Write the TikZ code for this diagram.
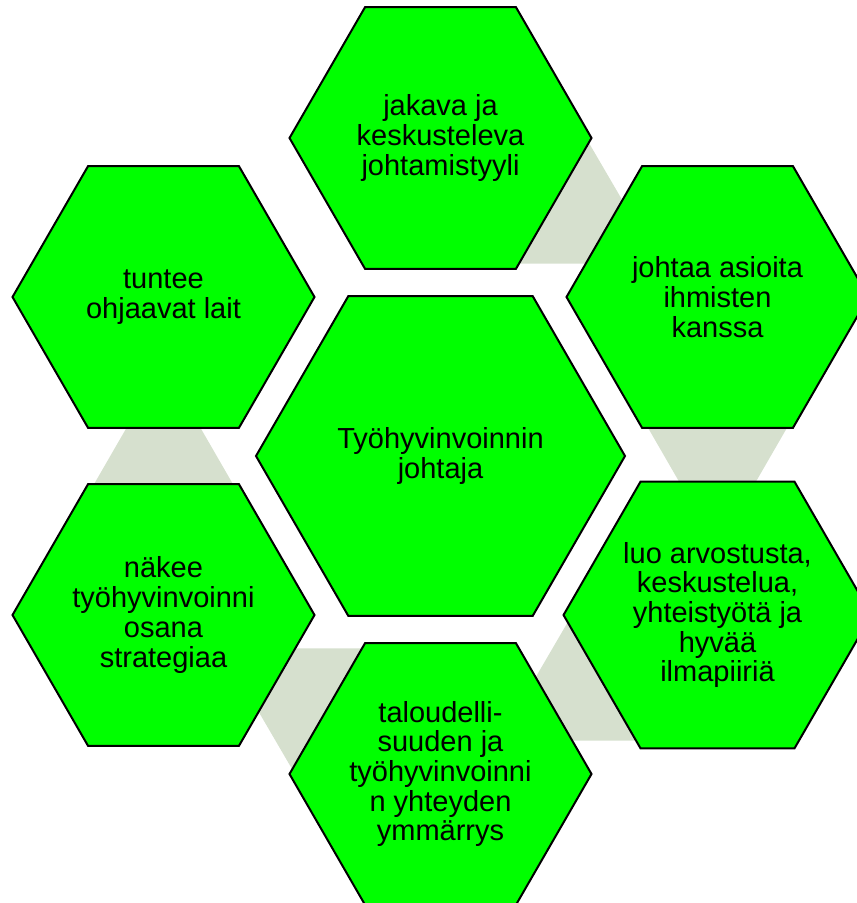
\documentclass[tikz,border=0pt]{standalone}
\usepackage{fontspec}
\setmainfont{Liberation Sans}
\usetikzlibrary{shapes.geometric, positioning, calc, backgrounds}

\definecolor{hexgreen}{RGB}{0,255,0}
\definecolor{linkgrey}{RGB}{214,224,206}

\begin{document}
\begin{tikzpicture}[x=1bp, y=-1bp, on grid]
    \tikzstyle{hexa} = [regular polygon, regular polygon sides=6, minimum size=302bp, inner sep=0pt, draw=black, line width=2bp, fill=hexgreen, align=center, font=\fontsize{29bp}{29.7bp}\selectfont]
    \tikzstyle{hexbig} = [hexa, minimum size=369bp]
    \tikzstyle{link} = [fill=linkgrey, draw=none]

    \useasboundingbox (0,0) rectangle (857,903);

    \node (lead) [hexbig] at (440.5,456) {Työhyvinvoinnin\\johtaja};

    \node (style) [hexa, above=318bp of lead] {jakava ja\\keskusteleva\\johtamistyyli};
    \node (people) [hexa, above right=159bp and 277bp of lead] {johtaa asioita\\ihmisten\\kanssa};
    \node (climate) [hexa, below right=159bp and 277bp of lead] {luo arvostusta,\\keskustelua,\\yhteistyötä ja\\hyvää\\ilmapiiriä};
    \node (economy) [hexa, below=318bp of lead] {taloudelli-\\suuden ja\\työhyvinvoinni\\n yhteyden\\ymmärrys};
    \node (strategy) [hexa, below left=159bp and 277bp of lead] {näkee\\työhyvinvoinni\\osana\\strategiaa};
    \node (laws) [hexa, above left=159bp and 277bp of lead] {tuntee\\ohjaavat lait};

    % grey links between neighbours, under the hexagons
    \begin{scope}[on background layer]
        \foreach \a/\b in {style/people, people/climate, climate/economy, economy/strategy, strategy/laws}
            \fill [link] ($(\a)!145bp!90:(\b)$) -- ($(\a)!0.79!(\b)$) -- ($(\a)!145bp!-90:(\b)$) -- cycle;
    \end{scope}
\end{tikzpicture}
\end{document}
